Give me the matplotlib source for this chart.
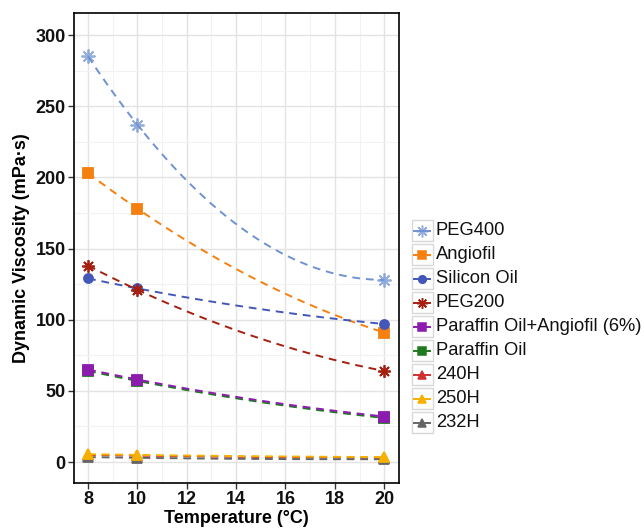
import matplotlib
matplotlib.use("Agg")
import matplotlib.pyplot as plt
import numpy as np
from matplotlib.lines import Line2D
from matplotlib.patches import Rectangle

plt.rcParams["font.family"] = ["Liberation Sans", "DejaVu Sans"]

temps = [8, 10, 20]
peg400 = [285, 237, 128]
angiofil = [203, 178, 91]
silicon_oil = [129, 122, 97]
peg200 = [138, 121, 64]
paraffin_angiofil = [65, 58, 32]
paraffin_oil = [64, 57, 31]
h240 = [5, 4.5, 3]
h250 = [5.5, 5, 3.5]
h232 = [3.5, 3, 2]

labels = ["PEG400", "Angiofil", "Silicon Oil", "PEG200",
          "Paraffin Oil+Angiofil (6%)", "Paraffin Oil", "240H", "250H", "232H"]
series = [peg400, angiofil, silicon_oil, peg200, paraffin_angiofil,
          paraffin_oil, h240, h250, h232]
colors = ["#7092D2", "#F57F0F", "#4357B8", "#A5200F", "#8B1CAE",
          "#1F7A1F", "#D03030", "#F5B000", "#666666"]
markers = [(8, 2, 0), "s", "o", (8, 2, 0), "s", "s", "^", "^", "^"]
sizes = [10, 6.5, 6.5, 9, 6.5, 6.5, 7.5, 7.5, 7.5]
alphas = [0.75, 1, 1, 1, 1, 1, 1, 1, 1]

# draw order: later ones on top
order = [0, 1, 2, 3, 5, 4, 6, 8, 7]

fig = plt.figure(figsize=(6.44, 5.30), dpi=100)
ax = fig.add_axes([74 / 644, 47 / 530, 325 / 644, 470 / 530])

xs = np.linspace(8, 20, 200)
for i in order:
    coef = np.polyfit(temps, series[i], 2)
    ax.plot(xs, np.polyval(coef, xs), color=colors[i], ls=(0, (4, 3)),
            lw=1.4, zorder=3)
    ax.plot(temps, series[i], ls="none", marker=markers[i], ms=sizes[i],
            color=colors[i], mec=colors[i], mew=1.3, alpha=alphas[i], zorder=4)

ax.set_xlim(7.43, 20.6)
ax.set_ylim(-14.7, 315.5)
ax.set_xticks(np.arange(8, 21, 2))
ax.set_yticks(np.arange(0, 301, 50))
ax.set_xticks(np.arange(9, 21, 2), minor=True)
ax.set_yticks(np.arange(25, 301, 50), minor=True)
ax.grid(which="major", color="#E3E3E3", lw=1.0, zorder=0)
ax.grid(which="minor", color="#F2F2F2", lw=0.8, zorder=0)
ax.set_axisbelow(True)
for s in ax.spines.values():
    s.set_color("black")
    s.set_linewidth(1.2)
ax.tick_params(which="major", length=4, width=1, color="#333333",
               labelsize=13, pad=2, labelcolor="#111111")
ax.tick_params(which="minor", length=0)
for t in ax.get_xticklabels() + ax.get_yticklabels():
    t.set_fontweight("bold")
ax.set_xlabel("Temperature (°C)", fontsize=13, fontweight="bold", labelpad=1)
ax.set_ylabel("Dynamic Viscosity (mPa·s)", fontsize=13, fontweight="bold",
              labelpad=4)

# ggplot-like legend with key boxes
W, H = 644, 530
for k, i in enumerate(range(len(labels))):
    cy = 230.5 + 24 * k
    fig.add_artist(Rectangle(((411.5) / W, 1 - (cy + 10.5) / H), 21 / W, 21 / H,
                             transform=fig.transFigure, facecolor="white",
                             edgecolor="#D8D8D8", lw=1.0))
    fig.add_artist(Line2D([414 / W, 430 / W], [1 - cy / H, 1 - cy / H],
                          transform=fig.transFigure, color=colors[i], lw=1.4))
    fig.add_artist(Line2D([422 / W], [1 - cy / H], transform=fig.transFigure,
                          ls="none", marker=markers[i], ms=sizes[i] * 0.85,
                          color=colors[i], mew=1.1, alpha=alphas[i]))
    fig.text(436 / W, 1 - cy / H, labels[i], fontsize=13.2, va="center",
             ha="left", color="#111111")

fig.savefig("out.png", dpi=100)
